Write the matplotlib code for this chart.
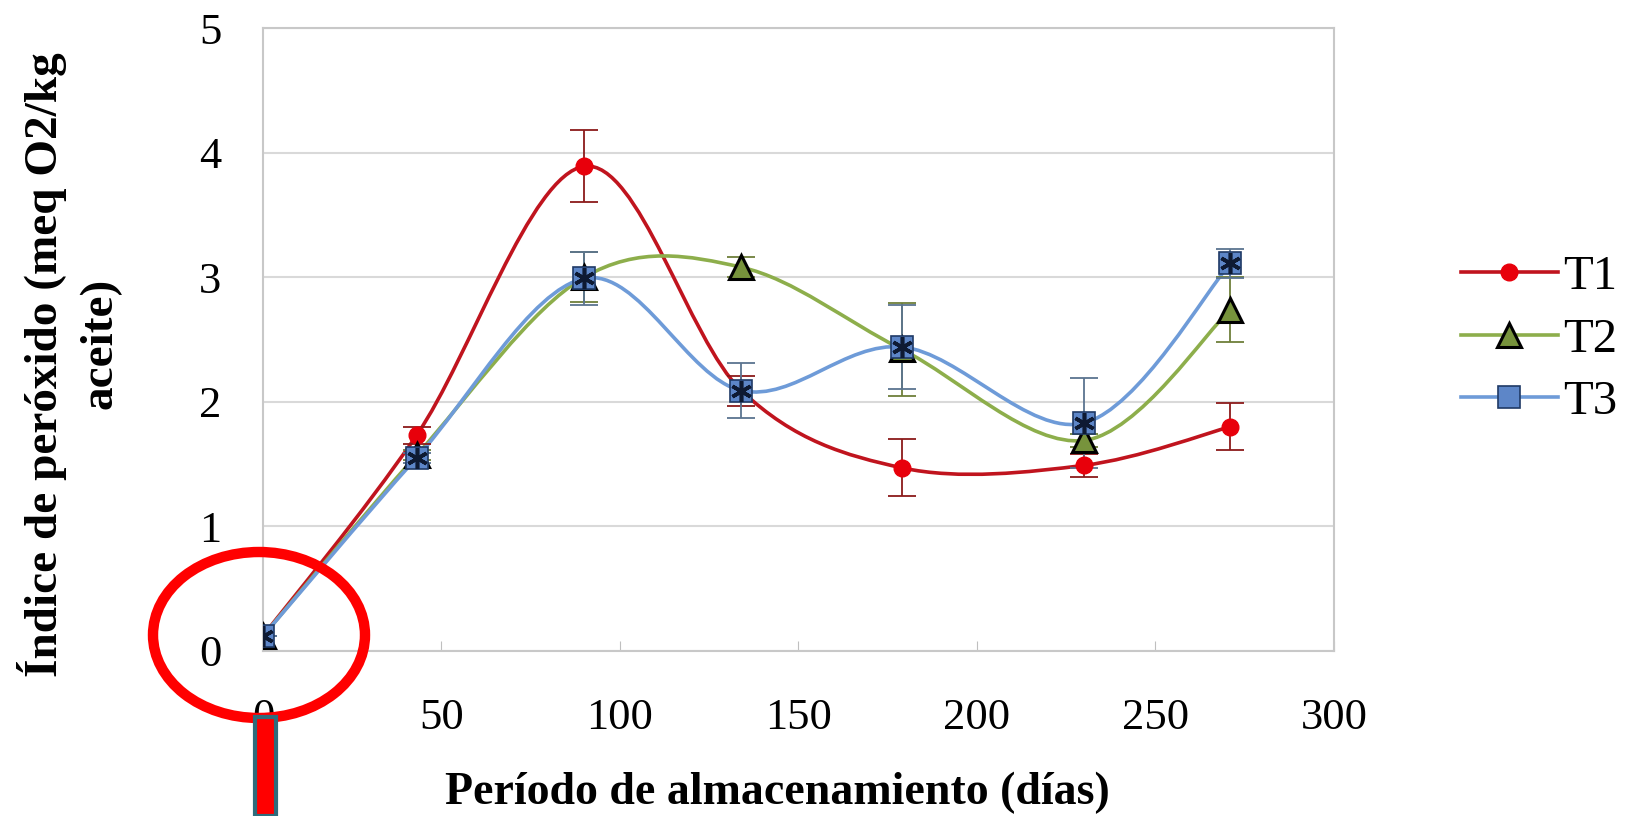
import matplotlib.pyplot as plt
from matplotlib.path import Path
from matplotlib.patches import PathPatch, Ellipse, Rectangle
from matplotlib.lines import Line2D
import numpy as np

# storage days
dias = [0, 43, 90, 134, 179, 230, 271]

t1 = [0.12, 1.73, 3.89, 2.09, 1.47, 1.49, 1.80]
t1_err = [0.0, 0.07, 0.29, 0.12, 0.23, 0.09, 0.19]

t2 = [0.12, 1.57, 3.00, 3.08, 2.42, 1.69, 2.74]
t2_err = [0.0, 0.04, 0.20, 0.08, 0.37, 0.05, 0.26]

t3 = [0.12, 1.55, 2.99, 2.09, 2.44, 1.83, 3.11]
t3_err = [0.0, 0.04, 0.21, 0.22, 0.34, 0.36, 0.12]

y_ticks = [0, 1, 2, 3, 4, 5]
x_ticks = [0, 50, 100, 150, 200, 250, 300]


def smooth_path(xs, ys):
    # excel-like smoothed line: catmull-rom turned into cubic beziers
    pts = np.column_stack([xs, ys]).astype(float)
    n = len(pts)
    verts = [pts[0]]
    codes = [Path.MOVETO]
    for i in range(n - 1):
        p0 = pts[i - 1] if i > 0 else pts[i]
        p1 = pts[i]
        p2 = pts[i + 1]
        p3 = pts[i + 2] if i + 2 < n else pts[i + 1]
        c1 = p1 + (p2 - p0) / 6.0
        c2 = p2 - (p3 - p1) / 6.0
        verts += [c1, c2, p2]
        codes += [Path.CURVE4] * 3
    return Path(verts, codes)


plt.rcParams['font.family'] = ['Liberation Serif', 'DejaVu Serif']

fig = plt.figure(figsize=(16.31, 8.16), dpi=100)
ax = fig.add_axes([263 / 1631, 165 / 816, 1071 / 1631, 623 / 816])

series = [
    ("T1", t1, t1_err, "#C0141E", "#8B1A1A", dict(marker="o", ms=12, mfc="#E8000B", mec="#E8000B")),
    ("T2", t2, t2_err, "#8DAE4B", "#6E7F3A", dict(marker="^", ms=17, mfc="#77933C", mec="black", mew=2.2)),
    ("T3", t3, t3_err, "#6E9BD8", "#5B7490", dict(marker="s", ms=16, mfc="#5D86C8", mec="#1F3A66", mew=1.2)),
]

handles = []
for name, vals, err, lc, ec, mk in series:
    ax.add_patch(PathPatch(smooth_path(dias, vals), fc="none", ec=lc, lw=2.6, zorder=3))
    ax.errorbar(dias, vals, yerr=err, fmt="none", ecolor=ec, elinewidth=1.3,
                capsize=10, capthick=1.3, zorder=4)
    ax.plot(dias, vals, ls="none", zorder=5, **mk)
    if name == "T3":
        ax.plot(dias, vals, ls="none", marker=(6, 2, 0), ms=15, mec="#0E1A33", mew=2.6, zorder=6)
    handles.append(Line2D([], [], color=lc, lw=2.6, **mk))

leg = ax.legend(handles, ["T1", "T2", "T3"], loc="center left", bbox_to_anchor=(1.1, 0.5),
                frameon=False, fontsize=35, handlelength=2.0, labelspacing=0.38,
                handletextpad=0.1, borderaxespad=0)

ax.set_xlim(0, 300)
ax.set_ylim(0, 5)
ax.set_xticks(x_ticks)
ax.set_yticks(y_ticks)
ax.tick_params(axis="x", direction="in", length=7, color="#BFBFBF", labelsize=32, pad=34)
ax.tick_params(axis="y", length=0, labelsize=32, pad=30)
ax.grid(axis="y", color="#D9D9D9", lw=1.5)
ax.set_axisbelow(True)
for s in ax.spines.values():
    s.set_color("#C8C8C8")
    s.set_linewidth(1.5)

fig.text(777 / 1631, 1 - 793 / 816, "Período de almacenamiento (días)", ha="center", va="center",
         fontsize=33, fontweight="bold")
fig.text(42 / 1631, 1 - 365 / 816, "Índice de peróxido (meq O2/kg", ha="center", va="center",
         rotation=90, fontsize=34, fontweight="bold")
fig.text(100 / 1631, 1 - 343 / 816, "aceite)", ha="center", va="center",
         rotation=90, fontsize=34, fontweight="bold")

# red highlight annotations
fig.add_artist(Ellipse((259 / 1631, 1 - 635 / 816), 212 / 1631, 166 / 816, transform=fig.transFigure,
                       fc="none", ec="#FF0000", lw=7.5, zorder=10))
fig.add_artist(Rectangle((255 / 1631, 0), 21 / 1631, 99 / 816, transform=fig.transFigure,
                         fc="#FF0000", ec="#2F6C7C", lw=3, zorder=11))

fig.savefig("out.png", dpi=100)
